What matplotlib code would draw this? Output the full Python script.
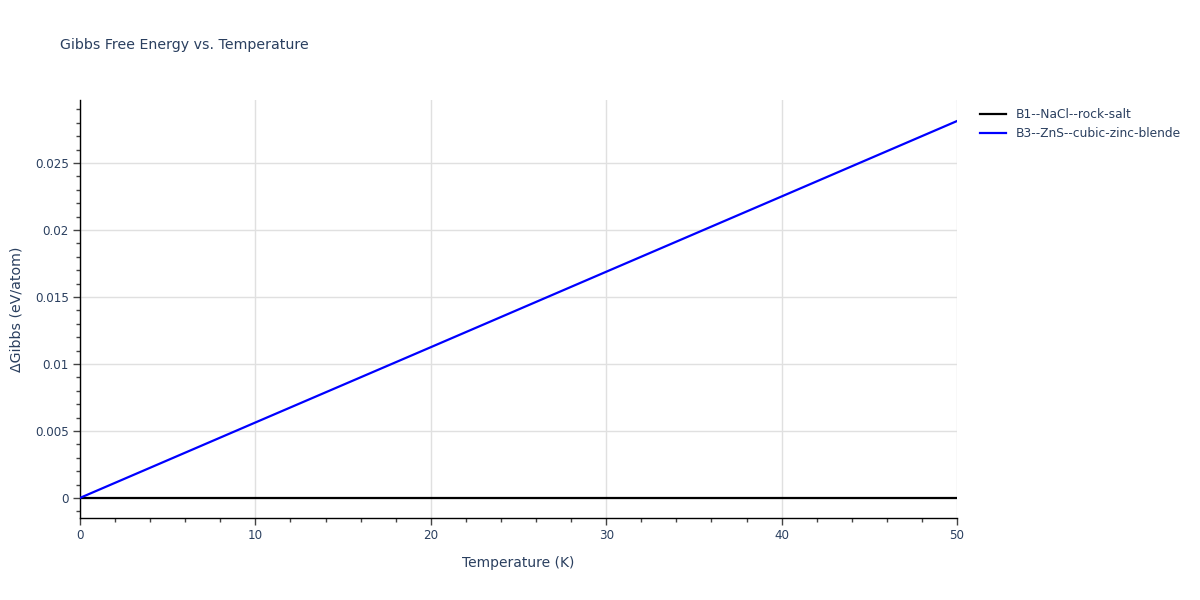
import matplotlib
matplotlib.use('Agg')
import matplotlib.pyplot as plt
from matplotlib.ticker import MultipleLocator

temperature = [0, 10, 20, 30, 40, 50]
b1_nacl = [0, 0, 0, 0, 0, 0]
b3_zns = [0, 0.00563, 0.01125, 0.01688, 0.0225, 0.02813]
series_names = ['B1--NaCl--rock-salt', 'B3--ZnS--cubic-zinc-blende']

TEXT = '#2a3f5f'
plt.rcParams['font.family'] = ['DejaVu Sans']

fig = plt.figure(figsize=(12, 6), dpi=100)
ax = fig.add_axes([80 / 1200, 82 / 600, 877 / 1200, 418 / 600])

ax.plot(temperature, b1_nacl, color='black', lw=1.6, label=series_names[0], zorder=3)
ax.plot(temperature, b3_zns, color='blue', lw=1.6, label=series_names[1], zorder=4)

ax.set_xlim(0, 50)
ax.set_ylim(-0.0015, 0.0297)
ax.xaxis.set_major_locator(MultipleLocator(10))
ax.xaxis.set_minor_locator(MultipleLocator(2))
ax.yaxis.set_minor_locator(MultipleLocator(0.001))
ax.set_yticks([0, 0.005, 0.01, 0.015, 0.02, 0.025])
ax.set_yticklabels(['0', '0.005', '0.01', '0.015', '0.02', '0.025'])

ax.grid(True, which='major', color='#e0e0e0', lw=1)
ax.set_axisbelow(True)
for s in ['top', 'right']:
    ax.spines[s].set_visible(False)
for s in ['left', 'bottom']:
    ax.spines[s].set_color('black')
    ax.spines[s].set_linewidth(1)

ax.tick_params(which='major', length=5, width=1, color='#444444', labelsize=8.6,
               labelcolor=TEXT, pad=3)
ax.tick_params(which='minor', length=3, width=1, color='#444444')

ax.set_xlabel('Temperature (K)', fontsize=10, color=TEXT, labelpad=10)
ax.set_ylabel('ΔGibbs (eV/atom)', fontsize=10.2, color=TEXT, labelpad=8)
fig.text(60 / 1200, 1 - 45 / 600, 'Gibbs Free Energy vs. Temperature',
         fontsize=10.2, color=TEXT, va='center', ha='left')

leg = ax.legend(loc='upper left', bbox_to_anchor=(1.0205, 0.992), frameon=False,
                fontsize=8.8, handlelength=2.1, labelspacing=0.5, borderaxespad=0)
for t in leg.get_texts():
    t.set_color(TEXT)

fig.savefig('out.png', dpi=100)
